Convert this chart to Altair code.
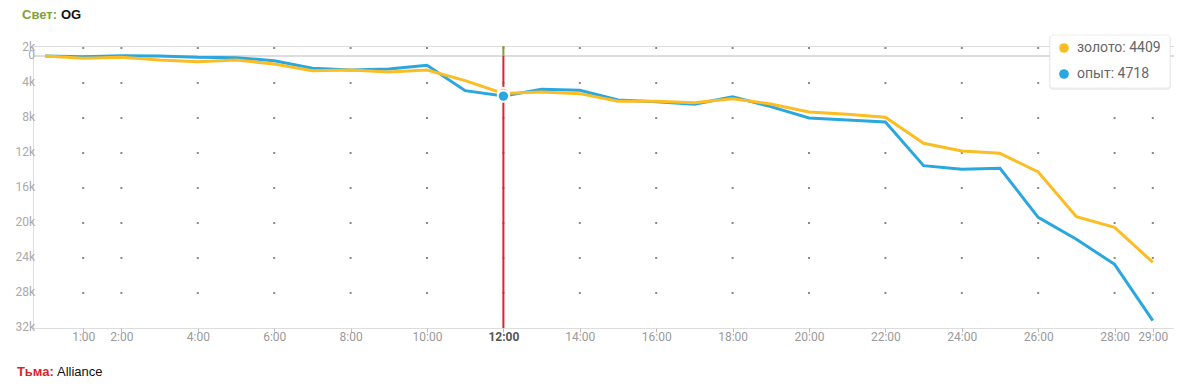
import altair as alt
import pandas as pd

# ---------------- data ----------------
minutes = list(range(30))
gold = [0, 270, 150, 470, 670, 470, 940, 1730, 1650, 1880, 1650, 2900, 4409, 4240, 4430,
        5330, 5330, 5490, 5020, 5650, 6590, 6860, 7210, 10270, 11180, 11450, 13650,
        18900, 20150, 24270]
xp = [0, 80, -40, 0, 150, 200, 550, 1450, 1650, 1530, 1090, 4080, 4718, 3920, 4040,
      5180, 5380, 5680, 4790, 5960, 7290, 7530, 7760, 12900, 13330, 13210, 18980,
      21560, 24510, 31140]
series_names = ["золото", "опыт"]
series_colors = ["#fbbd23", "#2aa7df"]
tick_minutes = [1, 2, 4, 6, 8, 10, 12, 14, 16, 18, 20, 22, 24, 26, 28, 29]
y_row_values = [-941, 3176, 7294, 11412, 15529, 19647, 23765, 27882, 32000]
y_row_labels = ["2k", "4k", "8k", "12k", "16k", "20k", "24k", "28k", "32k"]
zero_label = "0"
hover_minute = 12
top_team = ["Свет:", "OG"]
bottom_team = ["Тьма:", "Alliance"]

W, H = 1141, 282
FONT = "Roboto"
TFONT = "Liberation Sans"

df_gold = pd.DataFrame({"minute": minutes, "v": gold, "s": series_names[0]})
df_xp = pd.DataFrame({"minute": minutes, "v": xp, "s": series_names[1]})
df_dots = pd.DataFrame([{"minute": m, "v": r} for m in tick_minutes for r in y_row_values[:-1]])
df_ylab = pd.DataFrame({"v": y_row_values + [0], "t": y_row_labels + [zero_label]})
hi = minutes.index(hover_minute)
df_hover = pd.DataFrame({"minute": [hover_minute, hover_minute],
                         "v": [gold[hi], xp[hi]], "s": series_names})
df_one = pd.DataFrame({"a": [0]})

xscale = alt.Scale(domain=[-0.314, 29.555], nice=False, zero=False)
yscale = alt.Scale(domain=[-1176, 32000], reverse=True, nice=False, zero=False)

xaxis = alt.Axis(
    values=tick_minutes, labelExpr="datum.value + ':00'", grid=False, domain=False,
    ticks=True, tickSize=4, tickColor="#bbbbbb", tickWidth=1,
    labelPadding=-1, labelFont=FONT, labelFontSize=12,
    labelColor={"condition": {"test": "datum.value == 12", "value": "#555555"}, "value": "#9a9a9a"},
    labelFontWeight={"condition": {"test": "datum.value == 12", "value": "bold"}, "value": "normal"},
    title=None, labelOverlap=False, labelFlush=False,
)


def X(field="minute"):
    return alt.X(f"{field}:Q", scale=xscale, axis=xaxis)


def Y(field="v"):
    return alt.Y(f"{field}:Q", scale=yscale, axis=None)


# zero line
zero_line = alt.Chart(pd.DataFrame({"v": [0]})).mark_rule(color="#dddddd", strokeWidth=2).encode(
    y=Y(), x=alt.value(0), x2=alt.value(W))

# grid dots
dots = alt.Chart(df_dots).mark_square(size=4, color="#8a8a8a", opacity=1).encode(x=X(), y=Y())

# y labels
ylabels = alt.Chart(df_ylab).mark_text(align="right", baseline="middle", font=FONT,
                                       fontSize=12, color="#aaaaaa", dy=-1).encode(
    y=Y(), x=alt.value(2), text="t:N")

# hover vertical line
df_vline = pd.DataFrame({"minute": [hover_minute, hover_minute], "v": [0, -1176], "v2": [32000, 0],
                         "c": ["red", "green"]})
vline = alt.Chart(df_vline).mark_rule(strokeWidth=2).encode(
    x=X(), y=Y(), y2="v2:Q",
    color=alt.Color("c:N", scale=alt.Scale(domain=["red", "green"], range=["#d9252c", "#7fa13b"]), legend=None))

# lines
line_xp = alt.Chart(df_xp).mark_line(color=series_colors[1], strokeWidth=3).encode(x=X(), y=Y())
line_gold = alt.Chart(df_gold).mark_line(color=series_colors[0], strokeWidth=3).encode(x=X(), y=Y())

# hover points
hover_pts = alt.Chart(df_hover).mark_point(filled=True, size=130, stroke="white", strokeWidth=2,
                                          opacity=1).encode(
    x=X(), y=Y(),
    fill=alt.Fill("s:N", scale=alt.Scale(domain=series_names, range=series_colors), legend=None),
    order=alt.Order("v:Q"))

# legend box
bx0, bx1, by0, by1 = 1017, 1137, -11, 42
shadow = alt.Chart(df_one).mark_rect(fill="#000000", opacity=0.07, cornerRadius=4).encode(
    x=alt.value(bx0 - 1), x2=alt.value(bx1 + 1), y=alt.value(by0), y2=alt.value(by1 + 2))
box = alt.Chart(df_one).mark_rect(fill="white", cornerRadius=3, stroke="#ececec", strokeWidth=1).encode(
    x=alt.value(bx0), x2=alt.value(bx1), y=alt.value(by0), y2=alt.value(by1))

leg_layers = []
for i, (name, col, vals) in enumerate(zip(series_names, series_colors, [gold, xp])):
    yy = 2 + 26 * i
    leg_layers.append(alt.Chart(df_one).mark_circle(size=95, color=col, opacity=1).encode(
        x=alt.value(1031), y=alt.value(yy)))
    leg_layers.append(alt.Chart(df_one).mark_text(align="left", baseline="middle", font=FONT,
                                                  fontSize=14, color="#666666",
                                                  text=f"{name}: {vals[hi]}").encode(
        x=alt.value(1044), y=alt.value(yy)))

# team titles
top1 = alt.Chart(df_one).mark_text(align="left", baseline="middle", font=TFONT, fontSize=13,
                                   fontWeight="bold", color="#7fa13b", text=top_team[0]).encode(
    x=alt.value(-11), y=alt.value(-31))
top2 = alt.Chart(df_one).mark_text(align="left", baseline="middle", font=TFONT, fontSize=13,
                                   fontWeight="bold", color="#111111", text=top_team[1]).encode(
    x=alt.value(28), y=alt.value(-31))
bot1 = alt.Chart(df_one).mark_text(align="left", baseline="middle", font=TFONT, fontSize=13,
                                   fontWeight="bold", color="#d9252c", text=bottom_team[0]).encode(
    x=alt.value(-16), y=alt.value(326))
bot2 = alt.Chart(df_one).mark_text(align="left", baseline="middle", font=TFONT, fontSize=13,
                                   fontWeight="normal", color="#111111", text=bottom_team[1]).encode(
    x=alt.value(24), y=alt.value(326))

chart = alt.layer(
    zero_line, dots, ylabels, vline, line_xp, line_gold, hover_pts,
    shadow, box, *leg_layers, top1, top2, bot1, bot2
).properties(
    width=W, height=H,
    autosize=alt.AutoSizeParams(type="none"),
    padding={"left": 25, "top": 38, "right": 0, "bottom": 53},
).configure_view(stroke=None).configure(background="white")

chart.save("out.html", embed_options={"renderer": "svg", "actions": False})
